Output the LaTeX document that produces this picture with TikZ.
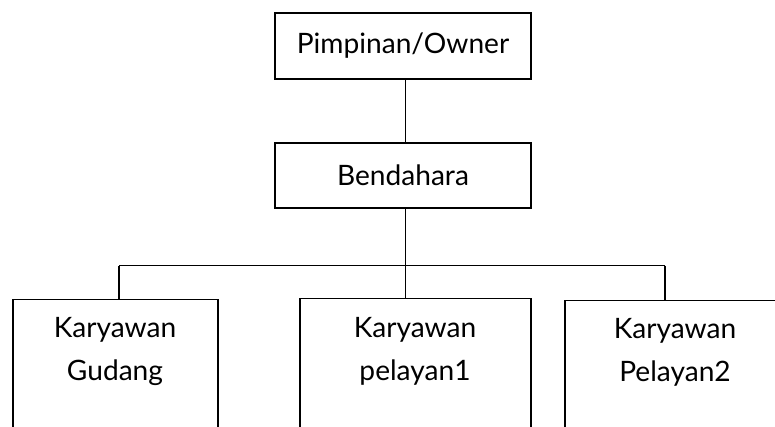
\documentclass[tikz,border=0pt]{standalone}
\usepackage{fontspec}
\setmainfont{Lato}
\usepackage{tikz}
\usetikzlibrary{positioning}

\tikzset{
  kotak/.style={draw, line width=0.4pt, inner sep=0pt, font=\fontsize{8}{12}\selectfont},
  teks/.style={inner sep=0pt, align=center, font=\fontsize{8}{12}\selectfont},
}

\begin{document}
\begin{tikzpicture}[x=1cm,y=1cm]
    % Frame of the picture
    \clip (0,0) rectangle (7.75,-4.26);
    % Coordinates of the branch lines
    \coordinate (cabang) at (4.057,-2.657); % Middle
    \coordinate (kiri)   at (1.19,-2.657);  % Left end
    \coordinate (kanan)  at (6.65,-2.657);  % Right end
    % Upper boxes
    \node[kotak, minimum width=2.56cm, minimum height=0.66cm] (owner) at (4.03,-0.46) {Pimpinan/Owner};
    \node[kotak, minimum width=2.56cm, minimum height=0.65cm] (bendahara) at (4.03,-1.755) {Bendahara};
    % Lower boxes (cut at the bottom)
    \node[kotak, minimum width=2.05cm, minimum height=2cm, anchor=north] (gudang) at (1.155,-2.99) {};
    \node[kotak, minimum width=2.31cm, minimum height=2cm, anchor=north] (pelayan1) at (4.155,-2.98) {};
    \node[kotak, minimum width=2.20cm, minimum height=2cm, anchor=north] (pelayan2) at (6.75,-3.00) {};
    \node[teks, anchor=north] (tgudang)   at (1.15,-3.17) {Karyawan\\Gudang};
    \node[teks, anchor=north] (tpelayan1) at (4.15,-3.17) {Karyawan\\pelayan1};
    \node[teks, anchor=north] (tpelayan2) at (6.75,-3.18) {Karyawan\\Pelayan2};
    % Connectors
    \draw[line width=0.4pt] (owner.south -| cabang) -- (bendahara.north -| cabang);
    \draw[line width=0.4pt] (bendahara.south -| cabang) -- (cabang);
    \draw[line width=0.4pt] (kiri) -- (kanan);
    \draw[line width=0.4pt] (kiri) -- (kiri |- gudang.north);
    \draw[line width=0.4pt] (cabang) -- (cabang |- pelayan1.north);
    \draw[line width=0.4pt] (kanan) -- (kanan |- pelayan2.north);
\end{tikzpicture}
\end{document}
